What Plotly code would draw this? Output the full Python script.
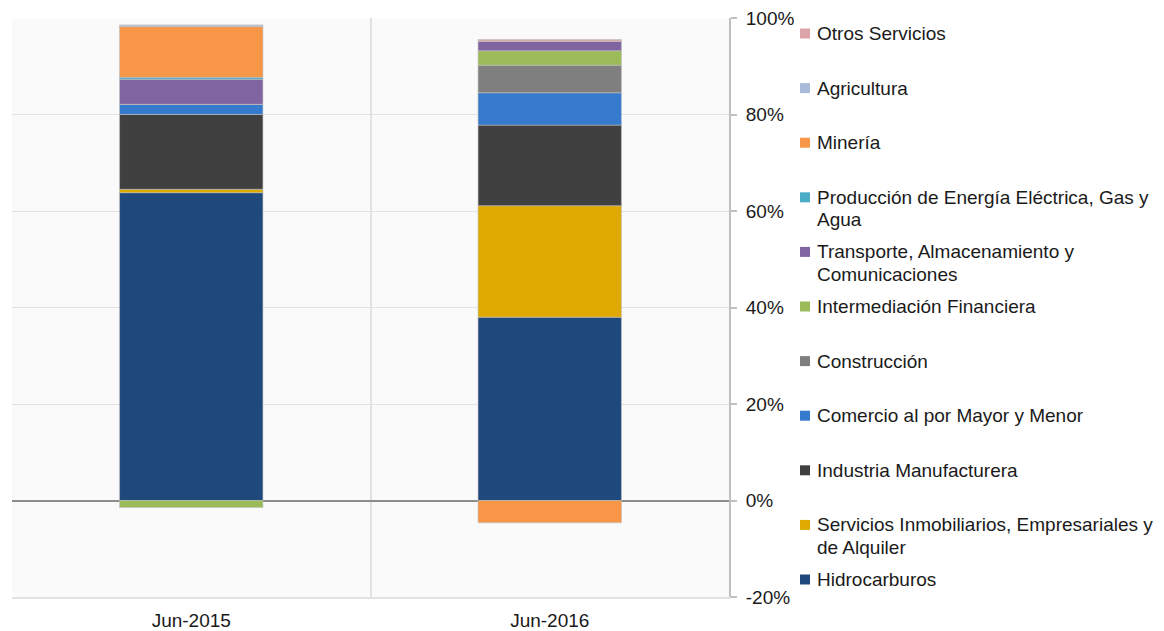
import plotly.graph_objects as go

categories = ["Jun-2015", "Jun-2016"]

# series in stacking order (bottom to top)
series_names = [
    "Hidrocarburos",
    "Servicios Inmobiliarios, Empresariales y de Alquiler",
    "Industria Manufacturera",
    "Comercio al por Mayor y Menor",
    "Construcción",
    "Intermediación Financiera",
    "Transporte, Almacenamiento y Comunicaciones",
    "Producción de Energía Eléctrica, Gas y Agua",
    "Minería",
    "Agricultura",
    "Otros Servicios",
]
legend_lines = [
    ["Hidrocarburos"],
    ["Servicios Inmobiliarios, Empresariales y", "de Alquiler"],
    ["Industria Manufacturera"],
    ["Comercio al por Mayor y Menor"],
    ["Construcción"],
    ["Intermediación Financiera"],
    ["Transporte, Almacenamiento y", "Comunicaciones"],
    ["Producción de Energía Eléctrica, Gas y", "Agua"],
    ["Minería"],
    ["Agricultura"],
    ["Otros Servicios"],
]
colors = [
    "#1F497D", "#DEA900", "#404040", "#357ACC", "#7F7F7F", "#9BBB59",
    "#8064A2", "#4BACC6", "#F79646", "#A9BADB", "#DBA5A8",
]

hidrocarburos = [63.8, 38.0]
servicios_inmob = [0.7, 23.1]
industria = [15.5, 16.7]
comercio = [2.1, 6.7]
construccion = [0.0, 5.7]
intermediacion = [-1.45, 3.0]
transporte = [5.2, 2.0]
energia = [0.4, 0.0]
mineria = [10.5, -4.6]
agricultura = [0.3, 0.0]
otros = [0.0, 0.35]

values = [hidrocarburos, servicios_inmob, industria, comercio, construccion,
          intermediacion, transporte, energia, mineria, agricultura, otros]

y_ticks = [-20, 0, 20, 40, 60, 80, 100]

fig = go.Figure()
for name, vals, col in zip(series_names, values, colors):
    fig.add_trace(go.Bar(
        x=categories, y=vals, name=name,
        marker=dict(color=col, line=dict(color="rgba(190,190,190,0.8)", width=0.75)),
        width=0.4, showlegend=False,
    ))

W, H = 1164, 631
# plot area in page pixels
L, R, T, B = 12, 729, 18, 597
pw, ph = R - L, B - T

def px(x):
    return (x - L) / pw

def py(y):
    return (B - y) / ph

shapes = []
annotations = []
start_y, step = 33.5, 54.6
font = dict(family="Liberation Sans, Arial, sans-serif", size=19, color="#1a1a1a")
for i, idx in enumerate(reversed(range(len(series_names)))):
    yc = start_y + i * step
    shapes.append(dict(type="rect", xref="paper", yref="paper",
                       x0=px(800), x1=px(810), y0=py(yc + 5), y1=py(yc - 5),
                       fillcolor=colors[idx], line=dict(width=0)))
    for j, line in enumerate(legend_lines[idx]):
        annotations.append(dict(xref="paper", yref="paper", x=px(815), y=py(yc + j * 22.5),
                                xanchor="left", yanchor="middle", text=line,
                                showarrow=False, font=font))

fig.update_layout(
    barmode="relative",
    width=W, height=H,
    margin=dict(l=L, r=W - R, t=T, b=H - B, pad=0, autoexpand=False),
    paper_bgcolor="white",
    plot_bgcolor="#fafafa",
    font=font,
    shapes=shapes,
    annotations=annotations,
    xaxis=dict(
        range=[-0.5, 1.5], tickson="boundaries", showgrid=True, gridcolor="#e2e2e2",
        gridwidth=1.5, showline=True, linecolor="#e2e2e2", linewidth=2,
        ticks="", ticklabelstandoff=5, tickfont=font, automargin=False,
    ),
    yaxis=dict(
        side="right", range=[-20, 100], tickvals=y_ticks,
        ticktext=[f"{v}%" for v in y_ticks],
        showgrid=True, gridcolor="#e2e2e2", gridwidth=1,
        zeroline=True, zerolinecolor="#8c8c8c", zerolinewidth=1.5,
        showline=True, linecolor="#c0c0c0", linewidth=2,
        ticks="outside", ticklen=6, tickcolor="#c0c0c0", tickwidth=1.5,
        ticklabelstandoff=5, tickfont=font, automargin=False,
        ticklabeloverflow="allow",
    ),
)

fig.write_html(
    "out.html",
    config={"displayModeBar": False},
    post_script="document.body.style.margin='0';document.body.style.overflow='hidden';",
)
